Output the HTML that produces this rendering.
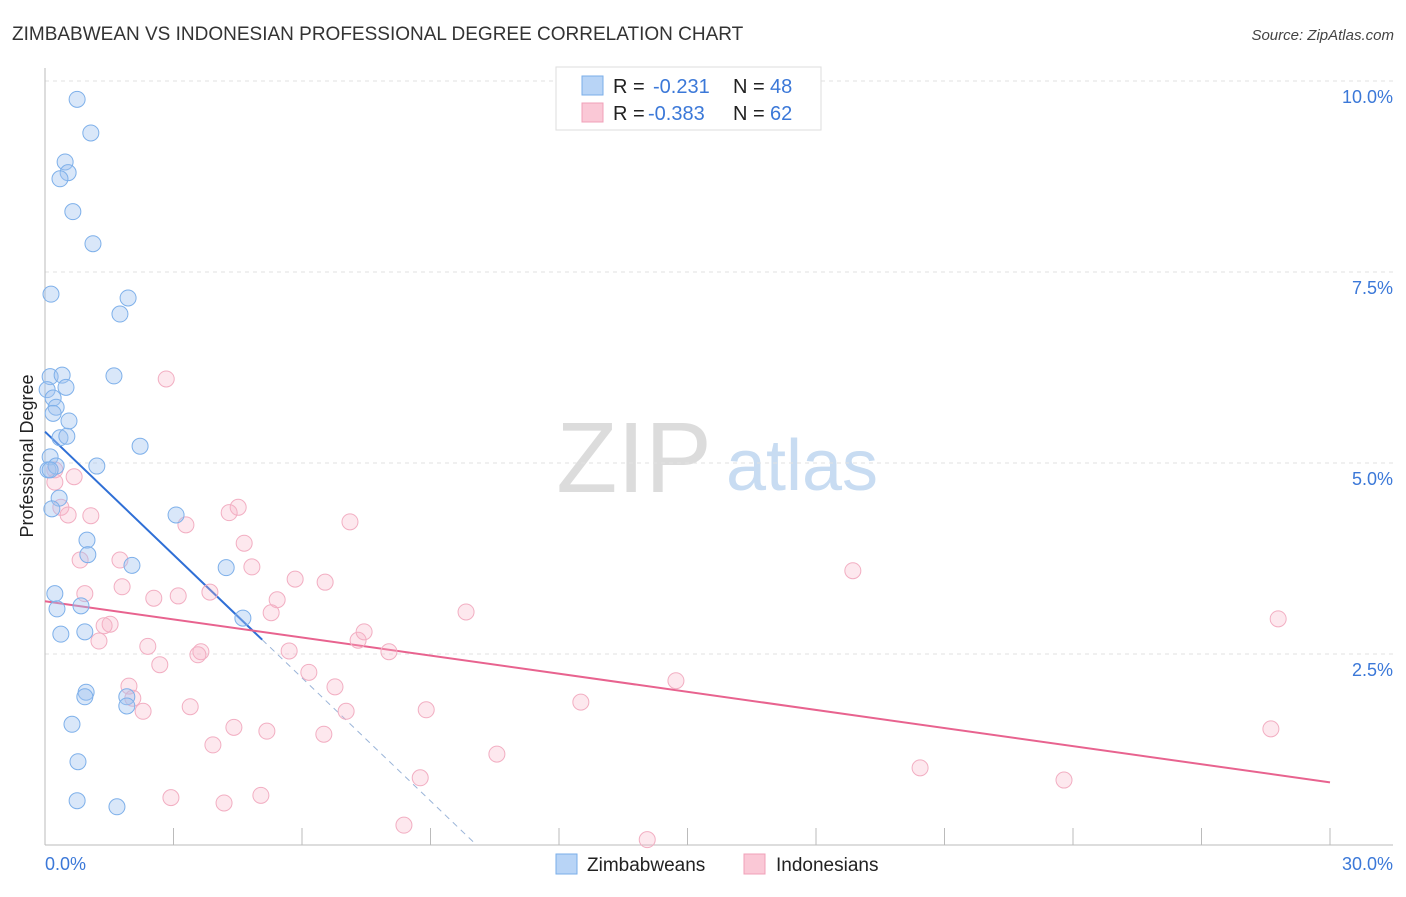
<!DOCTYPE html>
<html><head><meta charset="utf-8">
<style>
body{margin:0;background:#fff;font-family:"Liberation Sans",sans-serif;}
svg text{font-family:"Liberation Sans",sans-serif;}
</style></head>
<body>
<svg id="chart" width="1406" height="892" viewBox="0 0 1406 892" xmlns="http://www.w3.org/2000/svg">
<text x="12" y="40" font-size="19" fill="#333">ZIMBABWEAN VS INDONESIAN PROFESSIONAL DEGREE CORRELATION CHART</text>
<text x="1394" y="40" font-size="15" font-style="italic" fill="#444" text-anchor="end">Source: ZipAtlas.com</text>
<text transform="translate(33,456) rotate(-90)" font-size="18" fill="#222" text-anchor="middle">Professional Degree</text>
<g>
<text x="634" y="492" font-size="100" font-family="Liberation Serif,serif" fill="#dcdcdc" text-anchor="middle">ZIP</text>
<text x="802" y="490" font-size="72" fill="#c8dcf2" text-anchor="middle">atlas</text>
</g>
<g id="grid"></g>
<g id="axes"></g>
<g id="trend"></g>
<g id="pts"></g>
<g>
<rect x="556" y="67" width="265" height="63" fill="#fff" stroke="#ddd"/>
<rect x="582" y="76" width="21" height="19" fill="#b8d4f6" stroke="#7aaee8"/>
<rect x="582" y="103" width="21" height="19" fill="#fac8d6" stroke="#f0a0b8"/>
<text x="613" y="93" font-size="20" fill="#222">R =</text>
<text x="653" y="93" font-size="20" fill="#3b78d8">-0.231</text>
<text x="733" y="93" font-size="20" fill="#222">N =</text>
<text x="770" y="93" font-size="20" fill="#3b78d8">48</text>
<text x="613" y="120" font-size="20" fill="#222">R =</text>
<text x="648" y="120" font-size="20" fill="#3b78d8">-0.383</text>
<text x="733" y="120" font-size="20" fill="#222">N =</text>
<text x="770" y="120" font-size="20" fill="#3b78d8">62</text>
</g>
<g>
<rect x="556" y="854" width="21" height="20" fill="#b8d4f6" stroke="#7aaee8"/>
<text x="587" y="871" font-size="19" fill="#222">Zimbabweans</text>
<rect x="744" y="854" width="21" height="20" fill="#fac8d6" stroke="#f0a0b8"/>
<text x="776" y="871" font-size="19" fill="#222">Indonesians</text>
</g>
</svg>
<script>
const blueX=[0.75,1.07,0.47,0.54,0.35,0.65,1.12,0.14,1.94,1.75,1.61,0.12,0.40,0.49,0.05,0.19,0.26,0.19,0.56,0.35,0.51,2.22,1.21,0.12,0.07,0.26,0.33,0.16,3.06,0.98,1.00,2.03,4.23,0.23,0.84,0.28,4.62,0.37,0.93,0.96,0.93,1.91,1.91,0.63,0.77,0.75,1.68,0.12];
const blueY=[9.76,9.32,8.94,8.80,8.72,8.29,7.87,7.21,7.16,6.95,6.14,6.13,6.15,5.99,5.96,5.85,5.73,5.65,5.55,5.33,5.35,5.22,4.96,5.08,4.91,4.96,4.54,4.40,4.32,3.99,3.80,3.66,3.63,3.29,3.13,3.09,2.97,2.76,2.79,2.00,1.94,1.94,1.82,1.58,1.09,0.58,0.50,4.91];
const pinkX=[2.83,0.68,0.23,0.37,0.54,1.07,3.29,4.51,4.30,7.12,4.65,0.82,1.75,4.83,18.86,5.84,6.54,1.80,0.93,3.85,2.54,3.11,5.42,5.28,9.83,28.79,1.52,1.38,1.26,2.40,3.64,3.57,5.70,7.31,7.45,8.03,2.68,6.16,14.73,1.96,6.77,2.05,12.51,2.29,3.39,7.03,8.90,4.41,5.18,6.51,3.92,10.55,28.62,20.43,23.79,8.76,5.04,2.94,4.18,8.38,14.06,0.23];
const pinkY=[6.10,4.82,4.75,4.42,4.32,4.31,4.19,4.42,4.35,4.23,3.95,3.73,3.73,3.64,3.59,3.48,3.44,3.38,3.29,3.31,3.23,3.26,3.21,3.04,3.05,2.96,2.89,2.87,2.67,2.60,2.53,2.49,2.54,2.68,2.79,2.53,2.36,2.26,2.15,2.08,2.07,1.92,1.87,1.75,1.81,1.75,1.77,1.54,1.49,1.45,1.31,1.19,1.52,1.01,0.85,0.88,0.65,0.62,0.55,0.26,0.07,4.91];
const yTicks=[2.5,5.0,7.5,10.0];
const yTickLabels=["2.5%","5.0%","7.5%","10.0%"];
const xTicks=[0,3,6,9,12,15,18,21,24,27,30];
const blueTrend=[5.41,-0.537];
const pinkTrend=[3.19,-0.079];
const NS="http://www.w3.org/2000/svg";
const X=v=>45+v*1285/30, Y=v=>845-v*76.4;
function mk(tag,attrs,parent){const e=document.createElementNS(NS,tag);for(const k in attrs)e.setAttribute(k,attrs[k]);parent.appendChild(e);return e;}
const grid=document.getElementById('grid'),axes=document.getElementById('axes');
yTicks.forEach((t,i)=>{
 const l=mk('line',{x1:45,x2:1393,y1:Y(t),y2:Y(t),stroke:'#e2e2e2','stroke-dasharray':'4,4'},grid);
 
 
 const tx=mk('text',{x:1393,y:Y(t)+22,'font-size':18,fill:'#3b78d8','text-anchor':'end'},axes);
 tx.textContent=yTickLabels[i];
 
 
});
const ya=mk('line',{x1:45,x2:45,y1:68,y2:845,stroke:'#bbb'},axes);


const xa=mk('line',{x1:45,x2:1393,y1:845,y2:845,stroke:'#bbb'},axes);


xTicks.forEach(t=>{const l=mk('line',{x1:X(t),x2:X(t),y1:828,y2:845,stroke:'#bbb'},axes);
 
 });
const x0=mk('text',{x:45,y:870,'font-size':18,fill:'#3b78d8'},axes);x0.textContent='0.0%';


const x1=mk('text',{x:1393,y:870,'font-size':18,fill:'#3b78d8','text-anchor':'end'},axes);x1.textContent='30.0%';


const pts=document.getElementById('pts');
pinkX.forEach((v,i)=>{const c=mk('circle',{cx:X(v),cy:Y(pinkY[i]),r:8,fill:'rgba(248,180,200,0.3)',stroke:'#f2aec2','stroke-width':1},pts);
 
 });
blueX.forEach((v,i)=>{const c=mk('circle',{cx:X(v),cy:Y(blueY[i]),r:8,fill:'rgba(160,196,240,0.4)',stroke:'#7eb0ea','stroke-width':1},pts);
 
 });
const tr=document.getElementById('trend');
const bf=x=>blueTrend[0]+blueTrend[1]*x, pf=x=>pinkTrend[0]+pinkTrend[1]*x;
const bEnd=-blueTrend[0]/blueTrend[1];
let l1=mk('line',{x1:X(0),y1:Y(bf(0)),x2:X(5.07),y2:Y(bf(5.07)),stroke:'#2f6fd6','stroke-width':2},tr);


let l2=mk('line',{x1:X(5.07),y1:Y(bf(5.07)),x2:X(bEnd),y2:Y(0),stroke:'#9ab4d8','stroke-width':1,'stroke-dasharray':'6,5'},tr);


let l3=mk('line',{x1:X(0),y1:Y(pf(0)),x2:X(30),y2:Y(pf(30)),stroke:'#e8638f','stroke-width':2},tr);


</script>
</body></html>
